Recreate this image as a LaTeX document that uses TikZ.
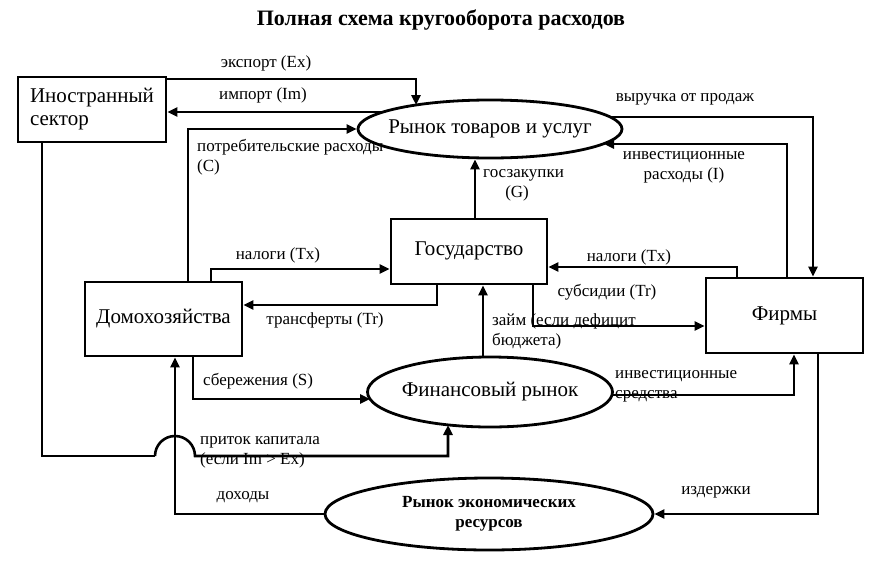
\documentclass[tikz,border=0pt]{standalone}
\usepackage{fontspec}
\setmainfont{Liberation Serif}
\usetikzlibrary{arrows.meta,shapes.geometric}
\begin{document}
\begin{tikzpicture}[x=1pt,y=-1pt,
  flow/.style={line width=2.6pt,-{Triangle[length=10pt,width=9pt]}},
  plain/.style={line width=2.6pt},
  boxn/.style={draw,line width=2.8pt,rectangle,inner sep=0pt,align=left,font=\fontsize{21}{23}\selectfont},
  ell/.style={draw,line width=2.8pt,ellipse,inner sep=0pt,align=center,font=\fontsize{21}{23}\selectfont},
  lbl/.style={inner sep=0pt,font=\fontsize{17}{20}\selectfont},
  lbll/.style={lbl,anchor=west,align=left}]
\useasboundingbox (0,0) rectangle (881,568);
\fill[white] (0,0) rectangle (881,568);
\node[inner sep=0pt,font=\bfseries\fontsize{22}{25}\selectfont] (title) at (441,20) {Полная схема кругооборота расходов};
% nodes
\node[boxn,minimum width=148pt,minimum height=65pt] (fs) at (92,109.5) {Иностранный\\сектор};
\node[ell,minimum width=264pt,minimum height=58pt] (goods) at (490,129) {\makebox[0pt]{Рынок товаров и услуг}};
\node[boxn,minimum width=156pt,minimum height=65pt] (gov) at (469,251.5) {\raisebox{6pt}{Государство}};
\node[boxn,minimum width=157pt,minimum height=74pt] (hh) at (163.5,319) {Домохозяйства};
\node[boxn,minimum width=157pt,minimum height=75pt] (firms) at (784.5,315.5) {Фирмы};
\node[ell,minimum width=245pt,minimum height=70pt] (fin) at (490,392) {\makebox[0pt]{\raisebox{4pt}{Финансовый рынок}}};
\node[ell,minimum width=328pt,minimum height=72pt,font=\bfseries\fontsize{17}{20}\selectfont] (res) at (489,514) {\makebox[0pt]{Рынок экономических}\\\makebox[0pt]{ресурсов}};
% connectors
\coordinate (exend) at (416,105);
\draw[flow] (fs.east |- 0,79) -| (exend);
\coordinate (imstart) at (383,112);
\draw[flow] (imstart) -- (fs.east |- imstart);
\draw[flow] ([xshift=24.5pt]hh.north) |- (goods.west);
\draw[flow] ([xshift=47.5pt]hh.north) |- ([yshift=-17.5pt]gov.west);
\draw[flow] ([xshift=-32pt]gov.south) |- ([yshift=14pt]hh.east);
\draw[flow] ([xshift=6pt]gov.north) -- ([xshift=-15pt]goods.south);
\draw[flow] ([xshift=-47.5pt]firms.north) |- ([yshift=-15.5pt]gov.east);
\draw[flow] ([xshift=64pt]gov.south) |- ([yshift=-10.5pt]firms.west);
\coordinate (revstart) at (610,117);
\draw[flow] (revstart) -| ([xshift=28.5pt]firms.north);
\coordinate (invend) at (604,144);
\draw[flow] ([xshift=2.5pt]firms.north) |- (invend);
\draw[flow] ([xshift=-7pt]fin.north) -- ([xshift=14pt]gov.south);
\coordinate (savend) at (370,399);
\draw[flow] ([xshift=29.5pt]hh.south) |- (savend);
\coordinate (ifstart) at (611,395);
\draw[flow] (ifstart) -| ([xshift=9.5pt]firms.south);
\draw[flow] ([xshift=33.5pt]firms.south) |- (res.east);
\draw[flow] (res.west) -| ([xshift=11.5pt]hh.south);
\coordinate (capend) at (448,425);
\coordinate (bumpL) at (155,456);
\draw[plain] ([xshift=-50pt]fs.south) |- (bumpL);
\draw[flow] (bumpL) arc[start angle=180,end angle=0,radius=20pt] -| (capend);
% labels
\node[lbl] (l1) at (266,63) {экспорт (Ex)};
\node[lbl] (l2) at (263,95) {импорт (Im)};
\node[lbll] (l3) at (197,157) {потребительские расходы\\(C)};
\node[lbl] (l4) at (685,99) {выручка от продаж};
\node[lbl,align=center] (l5) at (684,167) {инвестиционные\\расходы (I)};
\node[lbll] (l6) at (483,185) {госзакупки\\\hspace*{1.3em}(G)};
\node[lbl] (l7) at (278,255) {налоги (Tx)};
\node[lbl] (l8) at (325,320) {трансферты (Tr)};
\node[lbl] (l9) at (629,257) {налоги (Tx)};
\node[lbl] (l10) at (607,292) {субсидии (Tr)};
\node[lbll] (l11) at (492,331) {займ (если дефицит\\бюджета)};
\node[lbll] (l12) at (203,381) {сбережения (S)};
\node[lbll] (l13) at (615,386) {инвестиционные\\средства};
\node[lbll] (l14) at (200,452) {приток капитала\\(если Im > Ex)};
\node[lbl] (l15) at (243,497) {доходы};
\node[lbl] (l16) at (716,492) {издержки};
\end{tikzpicture}
\end{document}
